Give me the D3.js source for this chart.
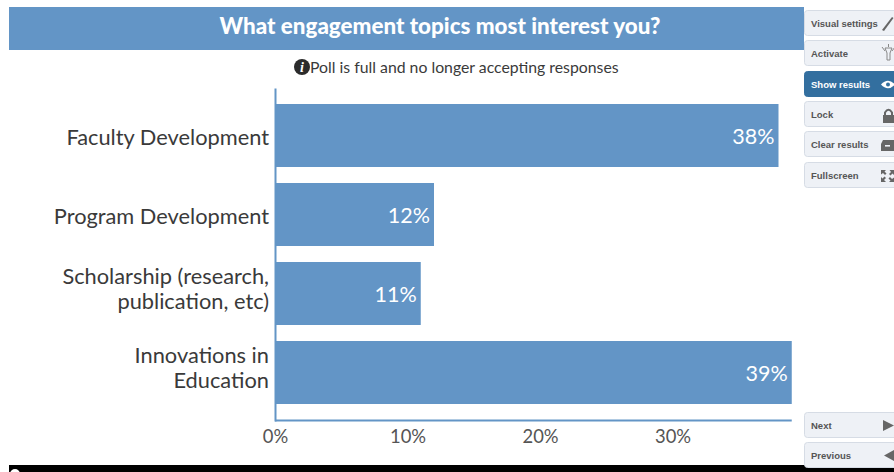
<!DOCTYPE html>
<html>
<head>
<meta charset="utf-8">
<script src="https://cdn.jsdelivr.net/npm/d3@7/dist/d3.min.js"></script>
<style>
  html, body { margin: 0; padding: 0; background: #fff; overflow: hidden; }
  svg { display: block; }
  .cat { font-family: Lato, sans-serif; font-size: 21.8px; fill: #3a3a3a; }
  .tick-label { font-family: Lato, sans-serif; font-size: 18.4px; fill: #555; }
  .btn-label { font-family: "Liberation Sans", Arial, sans-serif; font-size: 9.5px; font-weight: 700; }
</style>
</head>
<body>
<svg id="poll" width="894" height="472"></svg>
<script>
const titleText = "What engagement topics most interest you?";
const noticeText = "Poll is full and no longer accepting responses";
const categoryLines = [
  ["Faculty Development"],
  ["Program Development"],
  ["Scholarship (research,", "publication, etc)"],
  ["Innovations in", "Education"]
];
const shares = [38, 12, 11, 39];
const axisTicks = [0, 10, 20, 30];
const upperButtons = ["Visual settings", "Activate", "Show results", "Lock", "Clear results", "Fullscreen"];
const upperButtonTops = [11, 41, 72, 102, 132, 163];
const lowerButtons = ["Next", "Previous"];
const lowerButtonTops = [413, 443];

const accent = "#6395c6";
const svg = d3.select("#poll");

// Title banner
svg.append("rect").attr("x", 9).attr("y", 7).attr("width", 795).attr("height", 43).attr("fill", accent);
svg.append("text").attr("x", 440).attr("y", 34).attr("text-anchor", "middle")
  .attr("font-family", "Lato, sans-serif").attr("font-weight", 900).attr("font-size", 22.4)
  .attr("fill", "#fff").text(titleText);

// Closed-poll notice with its info badge
svg.append("circle").attr("cx", 302).attr("cy", 67).attr("r", 8).attr("fill", "#2b2b2b");
svg.append("text").attr("x", 302).attr("y", 72).attr("text-anchor", "middle")
  .attr("font-family", "'Liberation Serif', serif").attr("font-style", "italic").attr("font-weight", 700)
  .attr("font-size", 14).attr("fill", "#fff").text("i");
svg.append("text").attr("x", 310).attr("y", 73)
  .attr("font-family", "Lato, sans-serif").attr("font-size", 15.8).attr("fill", "#3a3a3a").text(noticeText);

// Scales
const x = d3.scaleLinear().domain([0, 30]).range([275, 672.5]);
const y = d3.scaleBand().domain(d3.range(shares.length)).range([96, 412]).paddingInner(16 / 79).paddingOuter(8 / 79);

// Bars
svg.append("g").selectAll("rect").data(shares).join("rect")
  .attr("x", x(0))
  .attr("y", (d, i) => y(i))
  .attr("width", d => x(d) - x(0))
  .attr("height", y.bandwidth())
  .attr("fill", accent);

// Value labels inside the bar ends
svg.append("g").selectAll("text").data(shares).join("text")
  .attr("x", d => x(d) - 4)
  .attr("y", (d, i) => y(i) + y.bandwidth() / 2 + 8.5)
  .attr("text-anchor", "end")
  .attr("font-family", "Lato, sans-serif").attr("font-size", 21.5)
  .attr("fill", "#fff").text(d => d + "%");

// Category labels, one tspan per wrapped line; wrapped blocks sit a little above centre
const cats = svg.append("g").selectAll("text").data(categoryLines).join("text")
  .attr("class", "cat").attr("text-anchor", "end");
cats.each(function (lines, i) {
  const mid = y(i) + y.bandwidth() / 2 + (lines.length > 1 ? 3 : 9);
  d3.select(this).selectAll("tspan").data(lines).join("tspan")
    .attr("x", 269)
    .attr("y", (l, k) => mid + (k - (lines.length - 1) / 2) * 25.5)
    .text(l => l);
});

// Axes
const bottom = svg.append("g").attr("transform", "translate(0,420.5)")
  .call(d3.axisBottom(x).tickValues(axisTicks).tickFormat(d => d + "%").tickSize(0).tickPadding(9));
bottom.select(".domain").attr("d", `M${x(0)},0H${x(d3.max(shares))}`).attr("stroke", accent).attr("stroke-width", 2);
bottom.selectAll("text").attr("class", "tick-label").attr("font-family", null).attr("font-size", null).attr("fill", null);

const left = svg.append("g").attr("transform", "translate(275,0)")
  .call(d3.axisLeft(d3.scaleLinear().domain([0, 1]).range([88, 421])).tickValues([]).tickSize(0));
left.select(".domain").attr("stroke", accent).attr("stroke-width", 2);

// Footer strip of the host page
svg.append("rect").attr("x", 9).attr("y", 465).attr("width", 885).attr("height", 7).attr("fill", "#000");
svg.append("circle").attr("cx", 15).attr("cy", 474).attr("r", 5).attr("fill", "#fff");

// Side control panel
const iconInk = "#666";
const icons = {
  "Visual settings": g => g.append("path").attr("d", "M882,30 L892,17 L893.5,18 L884,31 Z").attr("fill", iconInk),
  "Activate": g => g.append("path").attr("d", "M885,48 L892,48 L890,53 L890,60 L887,60 L887,53 Z M882,47 L885,51 M895,47 L892,51 M888.5,44 V47")
    .attr("fill", "none").attr("stroke", "#888").attr("stroke-width", 1),
  "Show results": g => {
    g.append("path").attr("d", "M881,84.5 Q888,77 895,84.5 Q888,92 881,84.5 Z").attr("fill", "#fff");
    g.append("circle").attr("cx", 888).attr("cy", 84.5).attr("r", 2).attr("fill", "#336f9f");
  },
  "Lock": g => {
    g.append("rect").attr("x", 883).attr("y", 115).attr("width", 11).attr("height", 8).attr("fill", iconInk);
    g.append("path").attr("d", "M885,115 V112.5 Q888.5,107 892,112.5 V115").attr("fill", "none").attr("stroke", iconInk).attr("stroke-width", 2);
  },
  "Clear results": g => {
    g.append("path").attr("d", "M881,144 L883,140 L894,140 L894,151 L881,151 Z").attr("fill", iconInk);
    g.append("rect").attr("x", 885).attr("y", 145).attr("width", 5).attr("height", 1.6).attr("fill", "#eef1f6");
  },
  "Fullscreen": g => g.append("path")
    .attr("d", "M881,170 h5 l-1.5,1.5 l2,2 l-1.5,1.5 l-2,-2 l-2,1.5 Z M894,170 v5 l-1.5,-1.5 l-2,2 l-1.5,-1.5 l2,-2 l-1.5,-2 Z M881,182 v-5 l1.5,1.5 l2,-2 l1.5,1.5 l-2,2 l2,2 Z M894,182 h-5 l1.5,-1.5 l-2,-2 l1.5,-1.5 l2,2 l2,-1.5 Z")
    .attr("fill", iconInk),
  "Next": g => g.append("path").attr("d", "M883,420 L894,425.5 L883,431 Z").attr("fill", iconInk),
  "Previous": g => g.append("path").attr("d", "M894,450 L884,455.5 L894,461 Z").attr("fill", iconInk)
};

const buttonRows = upperButtons.map((t, i) => ({ t, top: upperButtonTops[i] }))
  .concat(lowerButtons.map((t, i) => ({ t, top: lowerButtonTops[i] })));
const buttons = svg.append("g").selectAll("g").data(buttonRows).join("g");
buttons.append("rect")
  .attr("x", 804.5).attr("y", d => d.top - 0.5)
  .attr("width", 100).attr("height", 25).attr("rx", 3)
  .attr("fill", d => d.t === "Show results" ? "#336f9f" : "#eef1f6")
  .attr("stroke", d => d.t === "Show results" ? "#336f9f" : "#d6dce5");
buttons.append("text").attr("class", "btn-label")
  .attr("x", 811).attr("y", d => d.top + 15.5)
  .attr("fill", d => d.t === "Show results" ? "#fff" : "#555")
  .text(d => d.t);
buttons.each(function (d) { icons[d.t](d3.select(this)); });
</script>
</body>
</html>
